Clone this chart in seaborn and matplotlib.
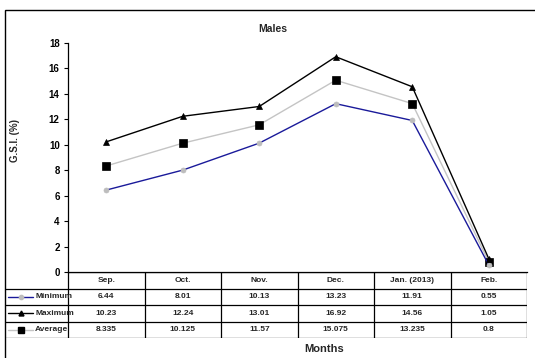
import matplotlib
matplotlib.use("Agg")
import matplotlib.pyplot as plt
from matplotlib.patches import Rectangle
from matplotlib.lines import Line2D
import seaborn as sns
import pandas as pd

# Monthly gonadosomatic index of males
months = ["Sep.", "Oct.", "Nov.", "Dec.", "Jan. (2013)", "Feb."]
minimum = [6.44, 8.01, 10.13, 13.23, 11.91, 0.55]
maximum = [10.23, 12.24, 13.01, 16.92, 14.56, 1.05]
average = [8.335, 10.125, 11.57, 15.075, 13.235, 0.8]
series_names = ["Minimum", "Maximum", "Average"]
y_ticks = [0, 2, 4, 6, 8, 10, 12, 14, 16, 18]

sns.set_theme(style="white")
plt.rcParams["font.family"] = ["Liberation Sans", "DejaVu Sans"]
plt.rcParams["font.weight"] = "bold"

W, H = 535, 358
fig = plt.figure(figsize=(W / 100, H / 100), dpi=100)
fig.patch.set_facecolor("white")


def px(x0, y0, x1, y1):
    """Figure rect from pixel box (top-left origin)."""
    return [x0 / W, 1 - y1 / H, (x1 - x0) / W, (y1 - y0) / H]


# outer chart frame
fig.add_artist(Rectangle((5 / W, -0.2), 1.2, 1 - 10 / H + 0.2, transform=fig.transFigure,
                         fill=False, lw=1.0, edgecolor="black"))

ax = fig.add_axes(px(68, 43, 527, 272))

rows = []
for name, vals in zip(series_names, [minimum, maximum, average]):
    for i, v in enumerate(vals):
        rows.append({"pos": i, "value": v, "series": name})
df = pd.DataFrame(rows)

styles = {
    "Minimum": dict(color="#1a1a9a", marker="o", mfc="#bdbdbd", mec="#bdbdbd", ms=3.6, lw=1.0),
    "Maximum": dict(color="black", marker="^", mfc="black", mec="black", ms=4.2, lw=1.0),
    "Average": dict(color="#c4c4c4", marker="s", mfc="black", mec="black", ms=5.5, lw=1.0),
}
for name in ["Average", "Minimum", "Maximum"]:
    st = styles[name]
    sns.lineplot(data=df[df.series == name], x="pos", y="value", ax=ax,
                 color=st["color"], lw=st["lw"], marker=st["marker"],
                 markerfacecolor=st["mfc"], markeredgecolor=st["mec"],
                 markersize=st["ms"], markeredgewidth=0.5, legend=False, zorder=3)

ax.set_xlim(-0.5, 5.5)
ax.set_ylim(0, 18)
ax.set_yticks(y_ticks)
ax.set_yticklabels([str(t) for t in y_ticks], fontsize=7, fontweight="bold")
ax.set_xticks([])
ax.set_xlabel("")
ax.set_ylabel("")
ax.tick_params(axis="y", direction="out", length=3, width=0.8, left=True, pad=3, colors="black")
for s in ["top", "right"]:
    ax.spines[s].set_visible(False)
for s in ["left", "bottom"]:
    ax.spines[s].set_color("black")
    ax.spines[s].set_linewidth(0.9)
ax.set_facecolor("white")

fig.text(273 / W, 1 - 29 / H, "Males", ha="center", va="center", fontsize=7.5, fontweight="bold")
fig.text(15 / W, 1 - 141 / H, "G.S.I. (%)", ha="center", va="center", rotation=90,
         fontsize=7, fontweight="bold")
fig.text(324 / W, 1 - 349 / H, "Months", ha="center", va="center", fontsize=8, fontweight="bold")

# data table below the plot
tax = fig.add_axes(px(5, 272, 527, 338))
left_col = -0.5 - 63 / 76.5
tax.set_xlim(left_col, 5.5)
tax.set_ylim(4, 0)
tax.axis("off")
lk = dict(color="black", lw=0.9, solid_capstyle="butt")
tax.plot([-0.5, 5.5], [0, 0], **lk)
for r in [1, 2, 3, 4]:
    tax.plot([left_col, 5.5], [r, r], **lk)
for c in range(7):
    tax.plot([c - 0.5, c - 0.5], [0, 4], **lk)

for i, m in enumerate(months):
    tax.text(i, 0.5, m, ha="center", va="center", fontsize=6, fontweight="bold")
for r, (name, vals) in enumerate(zip(series_names, [minimum, maximum, average]), start=1):
    for i, v in enumerate(vals):
        tax.text(i, r + 0.5, f"{v:g}", ha="center", va="center", fontsize=6, fontweight="bold")
    st = styles[name]
    key_x0 = left_col + 3 / 76.5
    key_x1 = left_col + 28 / 76.5
    tax.add_line(Line2D([key_x0, key_x1], [r + 0.5, r + 0.5], color=st["color"], lw=st["lw"]))
    tax.add_line(Line2D([(key_x0 + key_x1) / 2], [r + 0.5], marker=st["marker"],
                        mfc=st["mfc"], mec=st["mec"], ms=st["ms"] * 0.85, lw=0))
    tax.text(left_col + 30 / 76.5, r + 0.5, name, ha="left", va="center",
             fontsize=6, fontweight="bold")

fig.savefig("out.png", dpi=100, facecolor="white")
